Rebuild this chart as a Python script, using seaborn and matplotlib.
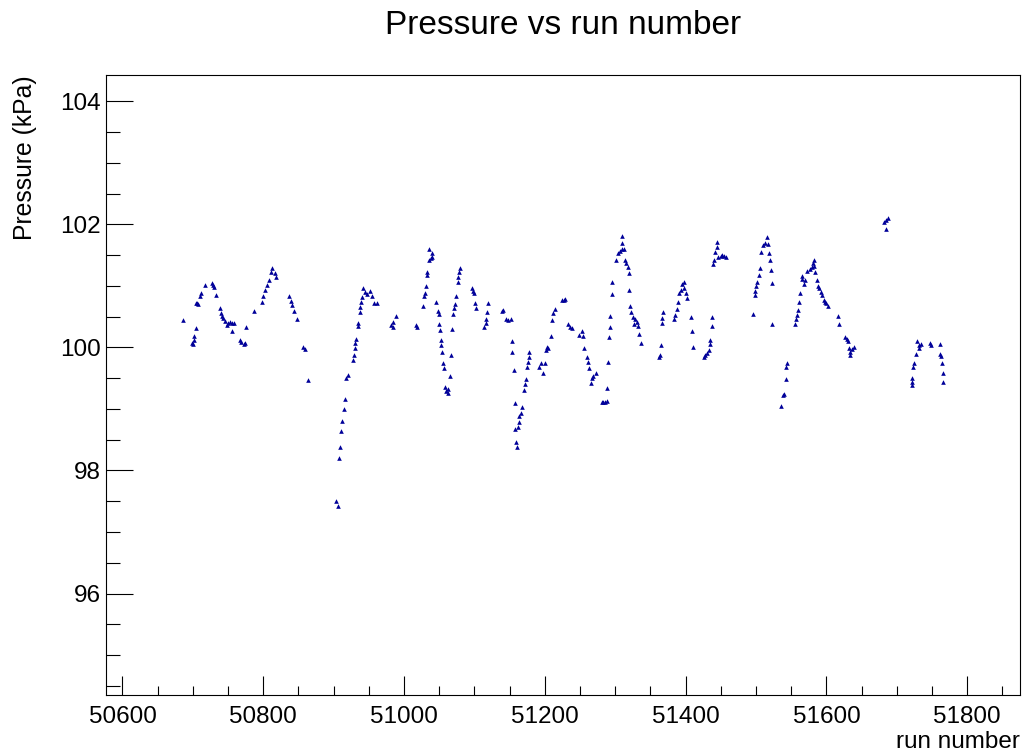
import numpy as np
import pandas as pd
import seaborn as sns
import matplotlib
matplotlib.use("Agg")
import matplotlib.pyplot as plt
from matplotlib.ticker import MultipleLocator

# run number / pressure values
run_number = [
    # 50680 - 50870
    50686, 50699, 50700, 50701, 50702, 50704, 50704, 50706, 50708, 50710,
    50711, 50717, 50727, 50729, 50730, 50733, 50738, 50740, 50741, 50743,
    50745, 50748, 50750, 50753, 50756, 50756, 50758, 50767, 50769, 50772,
    50774, 50775, 50787, 50798, 50800, 50803, 50806, 50808, 50811, 50813,
    50816, 50818, 50836, 50839, 50841, 50843, 50848, 50857, 50859, 50864,
    # 50900 - 51120
    50904, 50906, 50908, 50909, 50911, 50912, 50915, 50916, 50918, 50920,
    50927, 50929, 50930, 50931, 50932, 50934, 50935, 50937, 50938, 50939,
    50940, 50942, 50945, 50948, 50951, 50954, 50958, 50961, 50981, 50984,
    50985, 50988, 51017, 51019, 51027, 51029, 51030, 51031, 51032, 51033,
    51035, 51036, 51038, 51039, 51040, 51046, 51048, 51049, 51050, 51051,
    51052, 51053, 51054, 51055, 51057, 51058, 51060, 51062, 51063, 51065,
    51067, 51068, 51069, 51071, 51073, 51074, 51076, 51077, 51078, 51079,
    51096, 51098, 51100, 51101, 51102, 51114, 51116, 51117, 51118, 51119,
    # 51130 - 51340
    51139, 51141, 51145, 51148, 51152, 51153, 51154, 51156, 51157, 51158,
    51159, 51160, 51162, 51163, 51164, 51166, 51167, 51170, 51172, 51173,
    51175, 51176, 51177, 51178, 51192, 51194, 51197, 51200, 51201, 51203,
    51204, 51209, 51210, 51212, 51214, 51225, 51227, 51228, 51233, 51236,
    51238, 51249, 51253, 51254, 51256, 51260, 51261, 51263, 51265, 51267,
    51269, 51272, 51281, 51283, 51285, 51288, 51289, 51290, 51291, 51292,
    51293, 51295, 51296, 51301, 51304, 51307, 51310, 51312, 51309, 51310,
    51314, 51316, 51318, 51319, 51320, 51321, 51323, 51325, 51326, 51328,
    51331, 51332, 51334, 51336,
    # 51360 - 51565
    51362, 51364, 51365, 51366, 51367, 51368, 51383, 51385, 51388, 51389,
    51391, 51393, 51395, 51397, 51398, 51400, 51402, 51407, 51409, 51410,
    51426, 51428, 51431, 51433, 51434, 51435, 51437, 51438, 51439, 51440,
    51442, 51444, 51445, 51446, 51450, 51452, 51455, 51457, 51496, 51498,
    51499, 51500, 51502, 51504, 51505, 51507, 51510, 51513, 51515, 51517,
    51519, 51520, 51521, 51522, 51523, 51535, 51538, 51540, 51542, 51543,
    51544, 51556, 51557, 51558, 51559, 51561, 51562,
    # 51565 - 51770
    51565, 51566, 51568, 51569, 51573, 51576, 51579, 51581, 51582, 51583,
    51584, 51587, 51588, 51590, 51592, 51594, 51596, 51598, 51600, 51602,
    51617, 51618, 51626, 51629, 51631, 51632, 51633, 51634, 51636, 51639,
    51682, 51684, 51685, 51687, 51721, 51721, 51722, 51723, 51725, 51727,
    51729, 51731, 51732, 51734, 51747, 51748, 51761, 51761, 51763, 51764,
    51765, 51766,
]

pressure_kpa = [
    100.44, 100.08, 100.06, 100.12, 100.18, 100.31, 100.72, 100.73, 100.71, 100.83,
    100.89, 101.01, 101.05, 101.02, 100.99, 100.86, 100.65, 100.56, 100.51, 100.48,
    100.43, 100.36, 100.40, 100.41, 100.27, 100.40, 100.39, 100.12, 100.09, 100.06,
    100.08, 100.33, 100.60, 100.74, 100.83, 100.93, 101.02, 101.09, 101.23, 101.29,
    101.21, 101.14, 100.84, 100.76, 100.69, 100.60, 100.46, 100.00, 99.98, 99.47,
    97.51, 97.42, 98.20, 98.39, 98.65, 98.81, 99.00, 99.17, 99.50, 99.55,
    99.80, 99.88, 99.99, 100.07, 100.14, 100.35, 100.40, 100.57, 100.66, 100.74,
    100.82, 100.96, 100.91, 100.87, 100.92, 100.83, 100.73, 100.72, 100.37, 100.34,
    100.42, 100.51, 100.37, 100.34, 100.67, 100.84, 100.88, 101.00, 101.18, 101.22,
    101.42, 101.60, 101.45, 101.54, 101.47, 100.74, 100.60, 100.54, 100.38, 100.28,
    100.12, 100.04, 99.93, 99.75, 99.67, 99.36, 99.30, 99.26, 99.33, 99.53,
    99.88, 100.30, 100.54, 100.64, 100.71, 100.84, 101.07, 101.14, 101.22, 101.29,
    100.96, 100.92, 100.88, 100.73, 100.64, 100.34, 100.39, 100.47, 100.58, 100.73,
    100.60, 100.61, 100.47, 100.45, 100.46, 100.11, 99.93, 99.63, 99.10, 98.67,
    98.47, 98.38, 98.70, 98.79, 98.88, 98.94, 99.04, 99.31, 99.40, 99.48,
    99.69, 99.77, 99.85, 99.93, 99.69, 99.75, 99.59, 99.74, 99.96, 100.01,
    99.99, 100.19, 100.44, 100.56, 100.62, 100.78, 100.78, 100.79, 100.38, 100.33,
    100.31, 100.20, 100.26, 100.18, 99.99, 99.85, 99.77, 99.66, 99.43, 99.50,
    99.53, 99.58, 99.12, 99.12, 99.12, 99.13, 99.34, 99.77, 100.17, 100.33,
    100.51, 100.87, 101.07, 101.43, 101.53, 101.57, 101.60, 101.60, 101.70, 101.82,
    101.43, 101.37, 101.31, 101.21, 100.93, 100.67, 100.58, 100.50, 100.38, 100.47,
    100.42, 100.35, 100.22, 100.08,
    99.84, 99.88, 100.04, 100.39, 100.48, 100.57, 100.47, 100.53, 100.62, 100.74,
    100.89, 100.93, 101.03, 101.07, 100.96, 100.89, 100.80, 100.49, 100.27, 100.01,
    99.85, 99.88, 99.91, 99.96, 100.06, 100.12, 100.35, 100.49, 101.36, 101.42,
    101.56, 101.64, 101.71, 101.47, 101.49, 101.51, 101.48, 101.47, 100.54, 100.85,
    100.92, 101.00, 101.07, 101.18, 101.29, 101.55, 101.67, 101.70, 101.80, 101.68,
    101.53, 101.43, 101.26, 101.05, 100.38, 99.05, 99.23, 99.24, 99.48, 99.69,
    99.74, 100.38, 100.46, 100.53, 100.61, 100.74, 100.89,
    101.12, 101.16, 101.04, 101.10, 101.25, 101.28, 101.31, 101.38, 101.42, 101.32,
    101.22, 101.10, 101.00, 100.96, 100.91, 100.85, 100.78, 100.74, 100.72, 100.67,
    100.51, 100.38, 100.17, 100.13, 100.11, 99.99, 99.92, 99.88, 99.97, 100.01,
    102.04, 101.92, 102.07, 102.10, 99.39, 99.44, 99.50, 99.69, 99.75, 99.89,
    100.11, 100.04, 99.99, 100.06, 100.08, 100.04, 100.06, 99.89, 99.86, 99.74,
    99.58, 99.44,
]

df = pd.DataFrame({"run": run_number, "pressure": pressure_kpa})

sns.set_theme(style="white")
plt.rcParams['font.family'] = ['Liberation Sans', 'DejaVu Sans']
plt.rcParams['text.color'] = 'black'
plt.rcParams['xtick.color'] = 'black'
plt.rcParams['ytick.color'] = 'black'

fig = plt.figure(figsize=(10.24, 7.52), dpi=100)
ax = fig.add_axes([106 / 1024, 1 - 695 / 752, 914 / 1024, 620 / 752])

sns.scatterplot(data=df, x="run", y="pressure", marker="^", s=11,
                color="#000099", linewidth=0, ax=ax, legend=False)

ax.set_xlim(50576.6, 51875)
ax.set_ylim(94.35, 104.43)

ax.xaxis.set_major_locator(MultipleLocator(200))
ax.xaxis.set_minor_locator(MultipleLocator(50))
ax.yaxis.set_major_locator(MultipleLocator(2))
ax.yaxis.set_minor_locator(MultipleLocator(0.5))

ax.tick_params(axis="x", which="major", direction="in", length=13.4, width=0.8,
               labelsize=17.5, labelcolor="black", pad=8, top=False, bottom=True)
ax.tick_params(axis="x", which="minor", direction="in", length=6.7, width=0.8,
               top=False, bottom=True)
ax.tick_params(axis="y", which="major", direction="in", length=19.7, width=0.8,
               labelsize=17.5, labelcolor="black", pad=4, left=True, right=False)
ax.tick_params(axis="y", which="minor", direction="in", length=9.9, width=0.8,
               left=True, right=False)

for sp in ax.spines.values():
    sp.set_color("black")
    sp.set_linewidth(0.8)

ax.set_xlabel("")
ax.set_ylabel("")

fig.text(563 / 1024, 1 - 25 / 752, "Pressure vs run number", ha="center",
         va="center", fontsize=24, color="black")
fig.text(1020 / 1024, 1 - 742 / 752, "run number", ha="right", va="center",
         fontsize=17.5, color="black")
fig.text(25 / 1024, 1 - 75 / 752, "Pressure (kPa)", ha="center", va="top",
         rotation=90, fontsize=17.8, color="black")

fig.savefig("out.png", dpi=100, facecolor="white")
